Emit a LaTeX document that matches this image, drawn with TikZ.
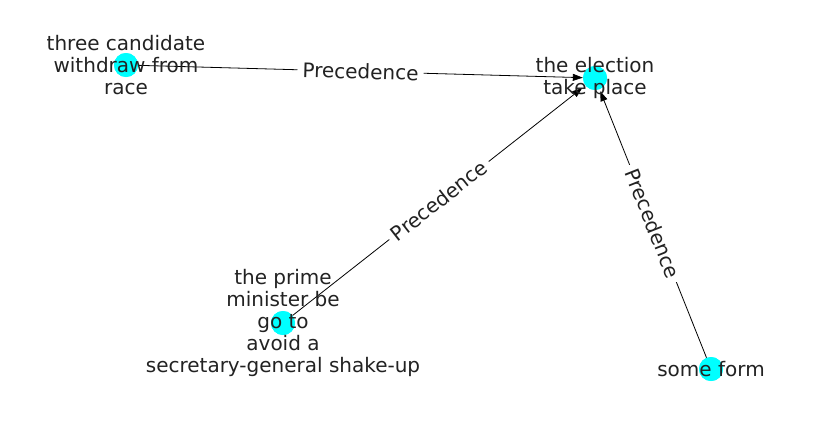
\documentclass[tikz,border=0pt]{standalone}
\usepackage{fontspec}
\setmainfont{DejaVu Sans}
\usetikzlibrary{arrows.meta}
\definecolor{nodecyan}{RGB}{0,255,255}
\definecolor{txt}{RGB}{34,34,34}
\tikzset{
  vert/.style={circle,fill=nodecyan,draw=none,minimum size=24pt,inner sep=0pt},
  vlabel/.style={align=center,text=txt,inner sep=0pt,font=\fontsize{20}{22}\selectfont},
  edge/.style={draw=black,line width=0.8pt,-{Triangle[length=10pt,width=7pt]}},
  elabel/.style={fill=white,rounded corners=3pt,inner sep=5pt,text=txt,font=\fontsize{20}{22}\selectfont}
}
\begin{document}
\begin{tikzpicture}[x=1pt,y=-1pt]
\useasboundingbox (0,0) rectangle (837,434);
\coordinate (pA) at (126,65);
\coordinate (pB) at (595,78);
\coordinate (pC) at (283,323);
\coordinate (pD) at (711,369);
% nodes
\node[vert] (A) at (pA) {};
\node[vert] (B) at (pB) {};
\node[vert] (C) at (pC) {};
\node[vert] (D) at (pD) {};
% edges
\draw[edge] (A) -- (B);
\draw[edge,shorten >=4pt] (C) -- (B);
\draw[edge,shorten >=2pt] (D) -- (B);
% redraw nodes on top of lines
\fill[nodecyan] (pA) circle (12);
\fill[nodecyan] (pB) circle (12);
\fill[nodecyan] (pC) circle (12);
\fill[nodecyan] (pD) circle (12);
% edge labels
\node[elabel,rotate=-1.6] (lAB) at (360.5,71.5) {Precedence};
\node[elabel,rotate=38.1] (lCB) at (439,200.5) {Precedence};
\node[elabel,rotate=-68.3] (lDB) at (653,223.5) {Precedence};
% vertex labels
\node[vlabel] (tA) at (pA) {three candidate\\withdraw from\\race};
\node[vlabel] (tB) at (pB) {the election\\take place};
\node[vlabel] (tC) at (pC) {the prime\\minister be\\go to\\avoid a\\secretary-general shake-up};
\node[vlabel] (tD) at (pD) {some form};
\end{tikzpicture}
\end{document}
